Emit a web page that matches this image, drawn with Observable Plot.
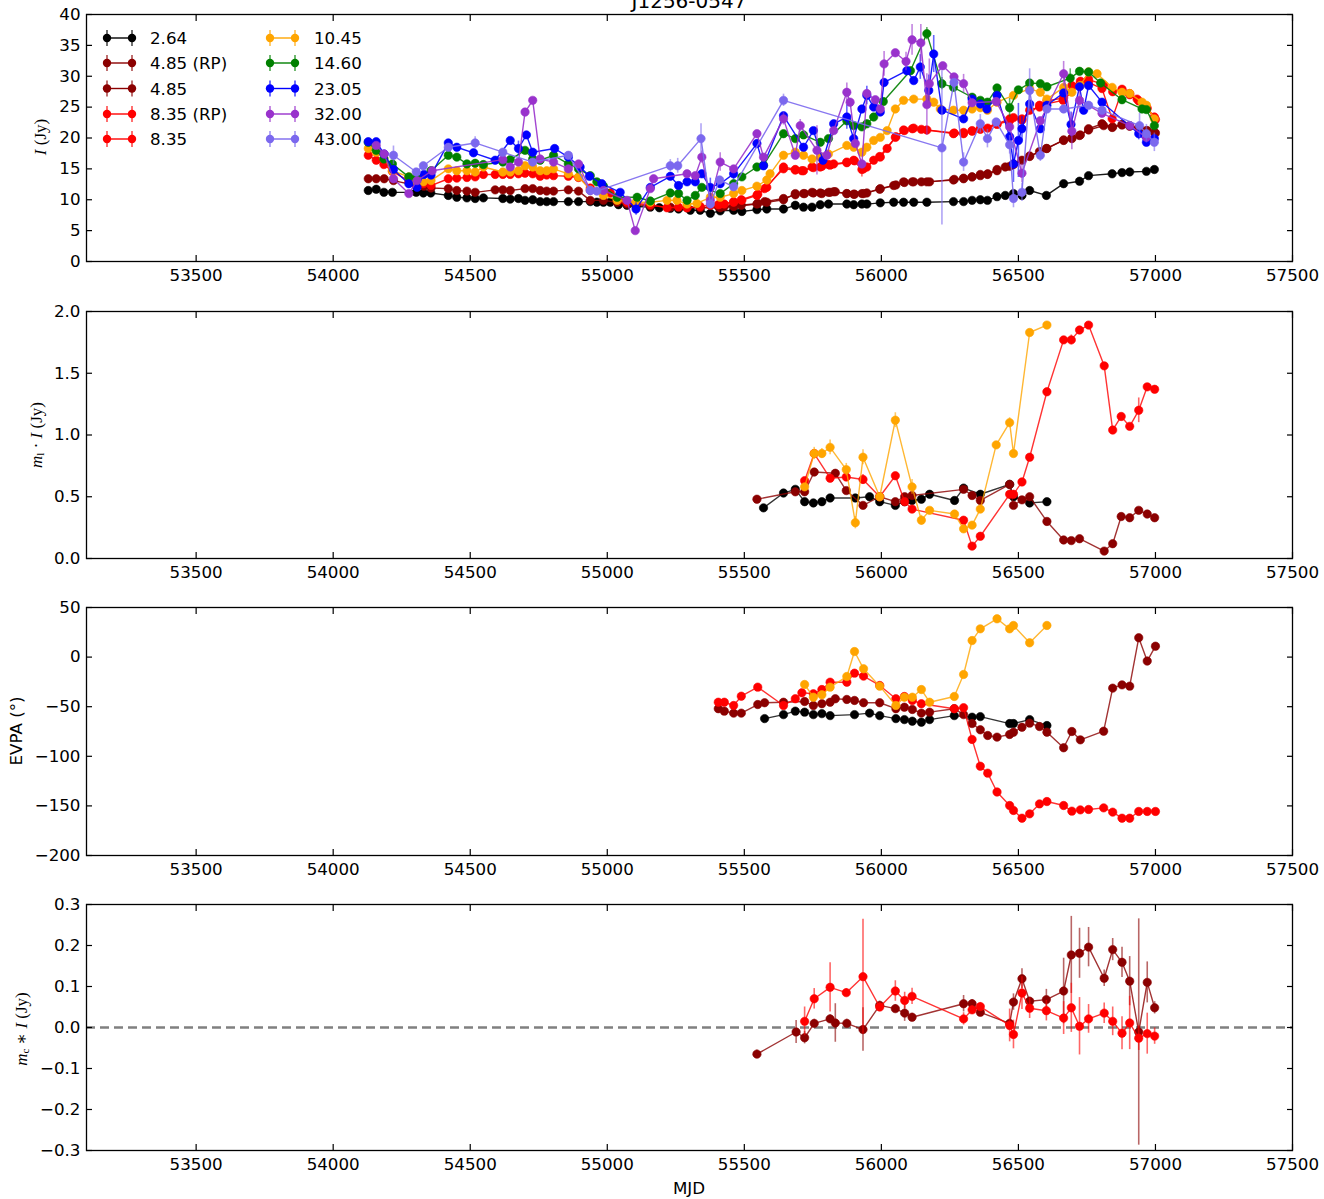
<!DOCTYPE html>
<html>
<head>
<meta charset="utf-8">
<script src="https://cdn.jsdelivr.net/npm/d3@7"></script>
<script src="https://cdn.jsdelivr.net/npm/@observablehq/plot@0.6"></script>
<style>
  body { margin: 0; background: #fff; }
  #fig { position: relative; width: 1324px; height: 1199px; overflow: hidden; background: #fff; }
  #fig > svg { position: absolute; left: 0; }
  #overlay { position: absolute; left: 0; top: 0; pointer-events: none; }
</style>
</head>
<body>
<div id="fig"></div>
<script>
// ---- shared axis settings ----
const xDomain = [53100, 57500];
const xTicks = [53500, 54000, 54500, 55000, 55500, 56000, 56500, 57000, 57500];

// ---- frequency bands (GHz) and their colours ----
const bands = ["2.64", "4.85 (RP)", "4.85", "8.35 (RP)", "8.35", "10.45", "14.60", "23.05", "32.00", "43.00"];
const bandColors = ["#000000", "#8b0000", "#8b0000", "#ff0000", "#ff0000", "#ffa500", "#008000", "#0000ff", "#9932cc", "#7b68ee"];

// ---- total flux density I (Jy): [MJD, I, error] ----
const flux264 = [[54128,11.5],[54157,11.7],[54185,11.2],[54216,11.2],[54303,11.2],[54329,11.1],[54356,11.1],[54420,10.7],[54451,10.4],[54488,10.3],[54518,10.2],[54548,10.3],[54619,10.2],[54646,10.1],[54676,10.2],[54700,9.9],[54728,10.0],[54755,9.7],[54779,9.7],[54804,9.7],[54858,9.7],[54895,9.7],[54938,9.7],[54962,9.6],[54986,9.6],[55011,9.6],[55041,9.2],[55072,9.1],[55105,8.9],[55157,8.8],[55190,8.7],[55230,8.6],[55260,8.5],[55303,8.3],[55339,8.3],[55376,7.8],[55412,8.2],[55461,8.3],[55491,8.1],[55546,8.4],[55582,8.5],[55643,8.5],[55686,9.1],[55716,8.8],[55747,8.8],[55777,9.2],[55807,9.3],[55874,9.3],[55899,9.2],[55929,9.3],[55947,9.3],[55996,9.5],[56045,9.6],[56081,9.6],[56118,9.6],[56166,9.6],[56263,9.7],[56300,9.7],[56331,9.9],[56361,10.0],[56387,9.9],[56422,10.5],[56452,10.7],[56482,11.0],[56513,10.7],[56541,11.5],[56602,10.7],[56665,12.6],[56723,13.0],[56756,13.9],[56842,14.2],[56878,14.4],[56906,14.5],[56967,14.6],[56996,14.9]];
const flux485rp = [[55405,8.9],[55427,8.9],[55461,9.0],[55489,9.1],[55549,9.4],[55574,9.7],[55643,10.2],[55686,10.8],[55720,11.0],[55752,11.1],[55783,11.0],[55813,11.2],[55832,11.3],[55874,11.0],[55902,10.9],[55935,11.0],[55994,11.7],[56053,12.4],[56084,12.8],[56113,12.9],[56146,12.9],[56176,12.9],[56266,13.3],[56300,13.5],[56331,13.7],[56361,14.1],[56388,14.2],[56422,14.9],[56468,15.4],[56482,15.8],[56513,16.4],[56541,17.1],[56577,17.8],[56604,18.3],[56665,19.7],[56695,20.0],[56726,20.5],[56756,21.3],[56811,22.0],[56844,21.8],[56878,22.1],[56906,21.9],[56939,21.6],[56970,21.2],[57000,20.8]];
const flux485 = [[54128,13.4],[54157,13.4],[54186,13.4],[54220,13.1],[54303,12.3],[54331,12.2],[54357,11.9],[54420,11.8],[54451,11.5],[54488,11.4],[54518,11.2],[54591,11.6],[54619,11.6],[54646,11.5],[54700,11.8],[54728,11.8],[54755,11.5],[54779,11.4],[54804,11.4],[54858,11.6],[54895,11.4],[54938,9.9],[54986,9.9],[55036,9.6],[55072,9.3],[55105,9.2],[55157,9.0],[55230,8.8],[55291,8.7],[55339,8.7],[55412,8.7],[55461,8.9],[55546,9.3],[55582,9.6],[55643,10.0],[55686,11.0],[55716,11.0],[55747,11.2],[55777,11.1],[55807,11.2],[55826,11.3],[55874,11.0],[55899,10.9],[55929,11.0],[55947,11.1],[55996,11.8],[56045,12.3],[56081,12.9],[56118,12.9],[56166,12.9],[56263,13.2],[56300,13.4],[56331,13.7],[56361,13.9],[56387,14.1],[56422,14.7],[56452,15.3],[56482,15.7],[56541,17.0],[56602,18.3],[56665,19.6],[56695,19.9],[56723,20.4],[56756,21.5],[56805,22.3],[56842,21.7],[56878,22.2],[56906,22.0],[56942,21.5],[56967,21.2],[56996,20.9]];
const flux835rp = [[55405,9.2],[55427,9.3],[55461,9.7],[55489,10.0],[55549,10.9],[55574,11.8],[55643,15.0],[55686,14.8],[55710,14.7],[55752,15.2],[55783,15.4],[55813,15.6],[55874,16.0],[55902,16.3],[55935,15.0],[55994,17.0],[56053,20.2],[56084,21.2],[56113,21.5],[56146,21.4],[56266,20.8],[56300,20.9],[56331,21.1],[56361,21.4],[56388,21.6],[56422,22.2],[56468,22.8],[56482,23.3],[56513,22.9],[56541,24.5],[56577,25.0],[56604,26.0],[56665,26.5],[56695,28.5],[56726,29.2],[56756,29.5],[56811,28.6],[56844,27.5],[56878,27.9],[56906,27.0],[56939,26.0],[56970,24.8],[57000,23.0]];
const flux835 = [[54128,17.2],[54157,16.4],[54185,15.7],[54216,14.6],[54276,13.0],[54303,12.9],[54329,12.6],[54357,12.3],[54420,13.4],[54451,13.5],[54488,13.6],[54518,13.7],[54548,14.1],[54591,14.1],[54619,14.1],[54646,14.1],[54676,14.2],[54700,14.3],[54728,14.2],[54755,13.8],[54779,14.0],[54804,13.9],[54858,13.8],[54895,13.6],[54938,11.9],[54986,11.2],[55011,11.1],[55041,10.0],[55072,9.6],[55105,9.4],[55157,9.2],[55218,8.7],[55260,8.8],[55291,8.7],[55339,8.9],[55376,9.1],[55412,9.3],[55461,9.6],[55491,9.9],[55546,10.7],[55582,12.0],[55643,15.3],[55686,14.9],[55716,14.7],[55747,15.3],[55777,15.3],[55807,15.7],[55826,15.8],[55874,16.1],[55899,16.4],[55929,14.9,1.2],[55947,15.3],[55972,16.4],[55996,16.9],[56021,18.3],[56051,20.1],[56081,21.3],[56118,21.6],[56166,21.3],[56263,20.7],[56300,20.7],[56331,21.2],[56361,21.5],[56422,22.3],[56468,23.1],[56513,23.1],[56577,25.3],[56663,26.1],[56726,28.8],[56756,29.0],[56805,28.0],[56842,23.1],[56878,27.7],[56906,27.2],[56933,26.3],[56967,25.0],[56996,23.4]];
const flux1045 = [[54128,18.3],[54157,17.7],[54185,16.7],[54216,14.7],[54276,13.7],[54303,12.9],[54329,12.9],[54357,13.1],[54420,15.0],[54451,14.7],[54488,14.7],[54518,14.5],[54548,15.3],[54619,14.5],[54646,14.5],[54676,14.7],[54700,15.5],[54728,15.3],[54755,14.7],[54779,14.7],[54804,15.0],[54858,14.2],[54895,13.7],[54938,11.6],[54986,10.7],[55036,9.9],[55105,9.6],[55157,9.6],[55218,9.9],[55254,9.9],[55291,9.3],[55327,9.4],[55376,10.4],[55412,10.4],[55461,11.0],[55491,11.5],[55546,12.2],[55582,13.2],[55594,14.2],[55643,17.2],[55686,17.7],[55716,17.2],[55747,16.6],[55777,16.9],[55807,17.4],[55874,18.8],[55899,18.5],[55929,17.7],[55947,18.5],[55972,19.6],[55996,20.1],[56021,21.2],[56051,24.7],[56081,26.1],[56118,26.3],[56166,26.3],[56191,25.8],[56215,24.7],[56263,24.5],[56300,24.5],[56331,24.7],[56361,24.9],[56387,24.5],[56422,25.8],[56482,26.9],[56541,28.0],[56580,27.4],[56604,26.3],[56665,28.2],[56695,27.4],[56726,28.5],[56756,30.7],[56787,30.4],[56842,28.2],[56878,27.4],[56906,27.2],[56951,25.8],[56967,25.3],[56996,23.1]];
const flux1460 = [[54128,19.3],[54157,18.0],[54185,16.6],[54216,15.8],[54276,13.7],[54303,13.5],[54357,14.7],[54420,17.2],[54451,16.9],[54488,15.8],[54518,15.9],[54548,15.7],[54619,16.1],[54646,16.5],[54700,18.0],[54728,16.6],[54755,16.4],[54804,17.2],[54858,15.8],[54895,15.0],[54938,13.9],[54962,12.9],[54986,12.2],[55036,10.4],[55109,10.4],[55157,9.8],[55230,11.1],[55260,11.0],[55291,9.9],[55321,10.7],[55345,12.0],[55412,11.0],[55461,12.6],[55491,13.7],[55546,15.3],[55570,15.6],[55643,20.7],[55686,19.9],[55716,20.5],[55777,19.3],[55807,19.9],[55874,22.8],[55899,22.0],[55929,21.8],[55947,22.3],[55972,23.4],[56007,25.9],[56106,30.9],[56166,36.9,1.0],[56221,28.8,1.0],[56263,28.2],[56331,26.6],[56361,26.1],[56387,25.8],[56422,28.1],[56468,24.9,1.5],[56500,27.8],[56541,28.9],[56580,28.8],[56604,28.3],[56689,29.7,1.5],[56723,30.8],[56756,30.7],[56800,28.9],[56878,26.2],[56951,24.7],[56967,24.6],[56996,22.0]];
const flux2305 = [[54128,19.4],[54157,19.4],[54186,17.4],[54220,14.9],[54276,12.6],[54306,12.0],[54331,14.1],[54357,14.0],[54420,19.2],[54451,18.5],[54512,17.6],[54591,16.4],[54646,19.6],[54676,18.3,1.2],[54705,20.5],[54728,17.7],[54808,18.3],[54858,16.9],[54901,15.3],[54935,13.8],[54980,12.6],[55047,11.2],[55105,8.5,1.0],[55157,12.0],[55230,13.8],[55260,12.3],[55291,12.9],[55321,12.9],[55345,14.2],[55376,12.0,1.5],[55412,12.6],[55461,14.2,1.0],[55546,19.1],[55570,15.5],[55643,23.6],[55716,18.5],[55752,21.2],[55787,16.4],[55826,22.3],[55874,23.4,2.0],[55899,19.9],[55929,24.7],[55947,26.9,1.5],[55972,25.0],[55996,24.2],[56010,29.0],[56093,30.9],[56118,29.3],[56142,31.5,2.0],[56173,27.7,2.5],[56191,33.6,3.0],[56221,24.5],[56300,23.1],[56331,26.3],[56361,25.5],[56385,24.7],[56422,26.9],[56468,20.2,2.0],[56482,15.8,3.0],[56500,19.6,6.0],[56513,21.5,2.0],[56541,25.5],[56580,21.5],[56604,25.3],[56665,27.3],[56692,22.2,2.0],[56723,28.3],[56738,24.5],[56756,28.5],[56805,25.8],[56939,20.7,1.0],[56967,19.3],[56996,19.9]];
const flux3200 = [[54157,18.8],[54186,17.4],[54220,13.4],[54276,11.0],[54306,13.1],[54361,14.7],[54619,16.5],[54646,15.3],[54676,16.1],[54700,24.2,0.5],[54728,26.1],[54755,16.6],[54804,16.1],[54858,15.0],[54895,15.8],[54938,11.5],[54986,11.5],[55072,9.9],[55102,5.0],[55157,11.8],[55169,13.4],[55291,14.2],[55321,13.9],[55345,16.9,1.0],[55376,9.9],[55412,16.1,1.5],[55461,15.0],[55546,20.7],[55570,16.9],[55643,23.1,1.0],[55686,17.2],[55704,22.0,1.0],[55765,18.0,4.0],[55801,17.2],[55826,21.2],[55874,27.4,1.5],[55886,25.8],[55905,19.1],[55929,15.8],[55947,27.2],[55978,26.2],[55996,24.7],[56010,32.0,2.0],[56051,33.8],[56090,32.4,1.5],[56112,35.9,2.5],[56144,35.4,3.0],[56166,25.4,5.0],[56175,28.8,4.0],[56224,31.7],[56265,29.9],[56300,28.8,1.5],[56331,25.7],[56419,25.9],[56468,21.8],[56513,14.3,1.5],[56580,22.8],[56665,30.4,2.0],[56695,21.1,3.0],[56723,26.1,1.5],[56805,24.0],[56906,22.0],[56967,20.1]];
const flux4300 = [[54220,17.2,1.5],[54303,14.5],[54329,15.5],[54420,18.5],[54518,19.2,1.0],[54619,17.7],[54728,16.1],[54858,17.2],[54938,11.5],[54962,11.4],[55230,15.5,1.0],[55257,15.5,1.2],[55342,19.9,2.4],[55376,9.3],[55410,13.2],[55461,12.1],[55643,26.1,1.0],[56221,18.4,12.5],[56265,29.0],[56300,16.1,1.5],[56361,22.3,1.5],[56387,19.9,1.5],[56419,22.6],[56468,18.9,1.5],[56482,10.2,1.5],[56513,11.2,1.5],[56541,27.7,3.5],[56580,17.2,1.0],[56604,24.7],[56665,24.7],[56756,25.3],[56805,24.5],[56942,22.0,2.0],[56967,20.7,1.5],[56996,19.3,1.5]];

// ---- linearly polarised flux m_l * I (Jy): [MJD, value, error] ----
const lin264 = [[55570,0.41],[55643,0.53],[55686,0.56],[55720,0.46],[55752,0.45],[55783,0.46],[55813,0.49],[55905,0.49],[55957,0.50],[55994,0.46],[56051,0.43],[56085,0.46],[56112,0.47],[56146,0.48],[56176,0.52],[56267,0.47],[56300,0.57],[56361,0.52],[56468,0.60],[56482,0.50],[56541,0.45],[56604,0.46]];
const lin485 = [[55546,0.48],[55686,0.54],[55720,0.54],[55755,0.70],[55832,0.69],[55872,0.55],[55933,0.43],[55994,0.50],[56051,0.46],[56085,0.50],[56112,0.51],[56300,0.56],[56331,0.51],[56361,0.47],[56468,0.60],[56482,0.43],[56513,0.475],[56541,0.50],[56604,0.30],[56665,0.15],[56693,0.145],[56723,0.16],[56813,0.06],[56844,0.12],[56875,0.34],[56906,0.33],[56939,0.39],[56970,0.36],[56997,0.33]];
const lin835 = [[55720,0.63],[55755,0.85],[55813,0.65],[55872,0.66],[55933,0.64,0.04],[55994,0.50],[56051,0.67],[56085,0.46],[56112,0.40],[56300,0.31],[56331,0.10],[56361,0.18],[56468,0.52],[56482,0.52],[56513,0.62],[56541,0.82],[56604,1.35],[56665,1.77],[56693,1.77,0.04],[56723,1.85],[56756,1.89],[56813,1.56],[56844,1.04],[56875,1.15],[56906,1.07],[56939,1.20,0.1],[56970,1.39],[56997,1.37]];
const lin1045 = [[55720,0.58],[55755,0.85,0.05],[55783,0.85,0.04],[55813,0.90,0.06],[55872,0.72,0.05],[55905,0.29,0.05],[55933,0.82,0.06],[55994,0.50],[56051,1.12,0.06],[56112,0.58,0.06],[56146,0.31,0.04],[56176,0.39],[56267,0.36],[56300,0.24],[56331,0.27],[56361,0.40],[56419,0.92],[56468,1.10,0.04],[56482,0.85,0.02],[56541,1.83],[56604,1.89,0.02]];

// ---- polarisation angle EVPA (deg): [MJD, value] ----
const evpa264 = [[55574,-62],[55643,-58],[55686,-54.5],[55720,-55.5],[55752,-58],[55783,-57],[55813,-59],[55902,-58],[55957,-56.5],[55994,-59],[56053,-62],[56084,-63],[56113,-64.6],[56146,-65.6],[56176,-63],[56266,-59],[56331,-60.6],[56361,-60],[56468,-67],[56482,-67],[56541,-63],[56604,-69]];
const evpa485 = [[55405,-52],[55427,-54.5],[55461,-56.5],[55489,-56.5],[55549,-47.8],[55574,-46],[55643,-45.5],[55720,-44.8],[55752,-48.8],[55783,-47],[55813,-45.5],[55832,-42],[55874,-42.7],[55902,-43.7],[55935,-46],[55994,-46],[56053,-52],[56084,-50.5],[56113,-52.8],[56146,-56.5],[56176,-55.5],[56266,-52],[56300,-58],[56331,-67],[56361,-73.3],[56388,-79],[56422,-80.7],[56468,-78],[56482,-75.7],[56513,-70.7],[56541,-66.6],[56577,-70],[56604,-75.7],[56665,-91.4],[56695,-75],[56726,-83.4],[56811,-74.7],[56844,-31.3],[56878,-28],[56906,-29.3],[56939,19.5],[56970,-4],[57000,11]];
const evpa835 = [[55405,-45.5],[55427,-45.5],[55461,-48.8],[55489,-39.4],[55549,-30.3],[55643,-48.8],[55686,-42],[55710,-36],[55752,-37],[55783,-32.7],[55813,-25.3],[55874,-25.3],[55902,-16.2],[55935,-19.2],[55994,-28.6],[56053,-42],[56084,-39.7],[56113,-43.7],[56146,-47],[56266,-52],[56300,-51],[56331,-83],[56361,-110],[56388,-117],[56422,-136],[56468,-149.6],[56482,-154.6],[56513,-162.4],[56541,-158],[56577,-148],[56604,-145.6],[56665,-149.6],[56695,-155.3],[56726,-154],[56756,-153.6],[56811,-152],[56844,-156.3],[56878,-162.4],[56906,-162.4],[56939,-155.6],[56970,-155.6],[57000,-155.6]];
const evpa1045 = [[55720,-27.6],[55752,-40.4],[55783,-38],[55813,-30.3],[55874,-19.6],[55902,5.6],[55935,-11.8],[55994,-29.3],[56053,-48.8],[56084,-40.4],[56113,-40.4],[56146,-32.7],[56176,-45.5],[56266,-39.7],[56300,-17.5],[56331,16.7],[56361,28.5],[56422,38.6],[56468,28.5],[56482,31.9],[56541,14.4],[56604,31.9]];

// ---- circularly polarised flux m_c * I (Jy): [MJD, value, error] ----
const circ485 = [[55546,-0.065,0.01],[55689,-0.011,0.028],[55720,-0.025,0.015],[55755,0.010,0.01],[55813,0.021,0.01],[55832,0.011,0.047],[55874,0.010,0.01],[55933,-0.005,0.053],[55994,0.054,0.01],[56051,0.046,0.01],[56085,0.035,0.02],[56112,0.025,0.01],[56300,0.058,0.02],[56331,0.058,0.01],[56361,0.037,0.01],[56468,0.010,0.01],[56482,0.062,0.02],[56513,0.119,0.024],[56541,0.064,0.01],[56602,0.068,0.025],[56665,0.089,0.08],[56693,0.177,0.094],[56723,0.181,0.061],[56756,0.196,0.048],[56813,0.120,0.02],[56844,0.190,0.027],[56878,0.159,0.037],[56906,0.113,0.06],[56939,-0.011,0.276],[56970,0.110,0.05],[56997,0.048,0.015]];
const circ835 = [[55720,0.015,0.035],[55755,0.070,0.025],[55813,0.098,0.06],[55872,0.085,0.01],[55933,0.124,0.14],[55994,0.050,0.01],[56051,0.089,0.025],[56085,0.066,0.02],[56112,0.076,0.02],[56300,0.021,0.015],[56331,0.043,0.01],[56361,0.051,0.01],[56468,0.005,0.04],[56482,-0.017,0.035],[56513,0.084,0.04],[56541,0.047,0.025],[56602,0.041,0.025],[56665,0.023,0.04],[56693,0.048,0.06],[56723,0.003,0.07],[56756,0.021,0.035],[56813,0.035,0.025],[56844,0.015,0.035],[56878,-0.014,0.04],[56906,0.011,0.065],[56939,-0.026,0.03],[56970,-0.015,0.05],[56997,-0.021,0.02]];

// ---- panel y ticks ----
const fluxTicks = [0, 5, 10, 15, 20, 25, 30, 35, 40];
const linTicks = [0, 0.5, 1.0, 1.5, 2.0];
const evpaTicks = [-200, -150, -100, -50, 0, 50];
const circTicks = [-0.3, -0.2, -0.1, 0, 0.1, 0.2, 0.3];

const colorOf = band => bandColors[bands.indexOf(band)];
const fluxLayers = [flux264, flux485rp, flux485, flux835rp, flux835, flux1045, flux1460, flux2305, flux3200, flux4300]
  .map((data, i) => ({band: bands[i], data}));

const fig = document.getElementById("fig");
const FONT = "'DejaVu Sans', sans-serif";

function makePanel({frameTop, frameH, yDomain, yTicks, yFormat, layers, zeroLine, lineOpacity}) {
  const mt = 10, mb = 40;
  const marks = [];
  if (zeroLine) marks.push(Plot.ruleY([0], {stroke: "#808080", strokeWidth: 2.4, strokeDasharray: "9,5"}));
  for (const {band, data} of layers) {
    const c = colorOf(band);
    marks.push(Plot.line(data, {x: d => d[0], y: d => d[1], stroke: c, strokeWidth: 1.4, strokeOpacity: lineOpacity, clip: true}));
    marks.push(Plot.ruleX(data.filter(d => d[2] > 0), {x: d => d[0], y1: d => d[1] - d[2], y2: d => d[1] + d[2], stroke: c, strokeWidth: 1.6, strokeOpacity: 0.6, clip: true}));
    marks.push(Plot.dot(data, {x: d => d[0], y: d => d[1], r: 4.2, fill: c, stroke: c, strokeWidth: 0.6, clip: true}));
  }
  marks.push(Plot.axisX({anchor: "bottom", ticks: xTicks, tickSize: -6, tickPadding: 14, tickFormat: d3.format("d"), label: null, strokeWidth: 1.2}));
  marks.push(Plot.axisX({anchor: "top", ticks: xTicks, tickSize: -6, tickFormat: () => "", label: null, strokeWidth: 1.2}));
  marks.push(Plot.axisY({anchor: "left", ticks: yTicks, tickSize: -6, tickPadding: 12, tickFormat: yFormat, label: null, strokeWidth: 1.2}));
  marks.push(Plot.axisY({anchor: "right", ticks: yTicks, tickSize: -6, tickFormat: () => "", label: null, strokeWidth: 1.2}));
  marks.push(Plot.frame({stroke: "#000", strokeWidth: 1.3}));
  const svg = Plot.plot({
    width: 1324, height: mt + frameH + mb,
    marginTop: mt, marginBottom: mb, marginLeft: 86, marginRight: 32,
    x: {domain: xDomain}, y: {domain: yDomain},
    style: {fontFamily: FONT, fontSize: "16.7px", color: "#000", background: "transparent", overflow: "visible"},
    marks
  });
  svg.style.top = (frameTop - mt) + "px";
  fig.appendChild(svg);
}

const f1 = d3.format(".1f");
makePanel({frameTop: 14, frameH: 247, yDomain: [0, 40], yTicks: fluxTicks, yFormat: d3.format("d"), layers: fluxLayers, lineOpacity: 0.9});
makePanel({frameTop: 311, frameH: 247, yDomain: [0, 2], yTicks: linTicks, yFormat: f1, lineOpacity: 0.8,
  layers: [{band: "2.64", data: lin264}, {band: "4.85", data: lin485}, {band: "8.35", data: lin835}, {band: "10.45", data: lin1045}]});
makePanel({frameTop: 607, frameH: 248, yDomain: [-200, 50], yTicks: evpaTicks, yFormat: d3.format("d"), lineOpacity: 0.8,
  layers: [{band: "2.64", data: evpa264}, {band: "4.85", data: evpa485}, {band: "8.35", data: evpa835}, {band: "10.45", data: evpa1045}]});
makePanel({frameTop: 904, frameH: 246, yDomain: [-0.3, 0.3], yTicks: circTicks, yFormat: f1, zeroLine: true, lineOpacity: 0.8,
  layers: [{band: "4.85", data: circ485}, {band: "8.35", data: circ835}]});

// ---- titles, axis labels and legend ----
const ov = d3.select(fig).append("svg").attr("id", "overlay").attr("width", 1324).attr("height", 1199);

ov.append("text").attr("x", 689).attr("y", 8).attr("text-anchor", "middle")
  .style("font-family", FONT).style("font-size", "20px").text("J1256-0547");
ov.append("text").attr("x", 689).attr("y", 1194).attr("text-anchor", "middle")
  .style("font-family", FONT).style("font-size", "16.7px").text("MJD");

function ylabel(x, y, build, family, size) {
  const t = ov.append("text").attr("transform", `translate(${x},${y}) rotate(-90)`)
    .attr("text-anchor", "middle").attr("dominant-baseline", "central")
    .style("font-family", family).style("font-size", size);
  build(t);
}
const SERIF = "'Liberation Serif', 'DejaVu Serif', serif";
ylabel(40, 137, t => {
  t.append("tspan").style("font-style", "italic").text("I");
  t.append("tspan").text(" (Jy)");
}, SERIF, "17px");
ylabel(36, 435, t => {
  t.append("tspan").style("font-style", "italic").text("m");
  t.append("tspan").attr("dy", 4).style("font-size", "11px").text("l");
  t.append("tspan").attr("dy", -4).text(" · ");
  t.append("tspan").style("font-style", "italic").text("I");
  t.append("tspan").text(" (Jy)");
}, SERIF, "17px");
ylabel(16, 731, t => t.text("EVPA (°)"), FONT, "16.7px");
ylabel(21, 1029, t => {
  t.append("tspan").style("font-style", "italic").text("m");
  t.append("tspan").attr("dy", 4).style("font-size", "11px").text("c");
  t.append("tspan").attr("dy", -4).text(" ∗ ");
  t.append("tspan").style("font-style", "italic").text("I");
  t.append("tspan").text(" (Jy)");
}, SERIF, "17px");

// legend: two columns of five entries
const rowsY = [38, 63, 88.5, 114, 139];
bands.forEach((b, i) => {
  const col = Math.floor(i / 5), row = i % 5;
  const x0 = col === 0 ? 107 : 270, x1 = x0 + 25, tx = col === 0 ? 150 : 314;
  const y = rowsY[row], c = bandColors[i];
  const g = ov.append("g");
  g.append("line").attr("x1", x0).attr("x2", x1).attr("y1", y).attr("y2", y).attr("stroke", c).attr("stroke-width", 1.4);
  for (const x of [x0, x1]) {
    g.append("line").attr("x1", x).attr("x2", x).attr("y1", y - 8).attr("y2", y + 8).attr("stroke", c).attr("stroke-width", 1.6).attr("stroke-opacity", 0.7);
    g.append("circle").attr("cx", x).attr("cy", y).attr("r", 4.2).attr("fill", c);
  }
  g.append("text").attr("x", tx).attr("y", y).attr("dominant-baseline", "central")
    .style("font-family", FONT).style("font-size", "16.7px").text(b);
});
</script>
</body>
</html>
